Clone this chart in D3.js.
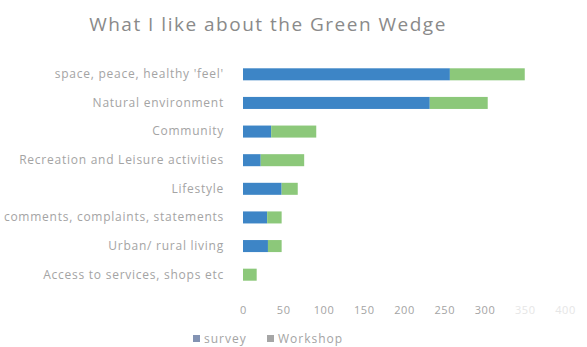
<!DOCTYPE html>
<html>
<head>
<meta charset="utf-8">
<script src="https://cdn.jsdelivr.net/npm/d3@7"></script>
<style>
  body { margin: 0; background: #fff; }
  svg { font-family: "Open Sans", sans-serif; }
</style>
</head>
<body>
<svg id="chart"></svg>
<script>
var categories = [
  "space, peace, healthy 'feel'",
  "Natural environment",
  "Community",
  "Recreation and Leisure activities",
  "Lifestyle",
  "comments, complaints, statements",
  "Urban/ rural living",
  "Access to services, shops etc"
];
var surveyValues = [257, 232, 35, 22, 48, 30, 31, 0];
var workshopValues = [93, 72, 56, 54, 20, 18, 17, 17];
var seriesNames = ["survey", "Workshop"];
var xTicks = [0, 50, 100, 150, 200, 250, 300, 350, 400];

var svgWidth = 587,
  svgHeight = 347;

var plotLeft = 243,
  plotRight = 565,
  plotTop = 60,
  plotBottom = 289;

var colors = ["#3d85c6", "#8cc87a"];

var svg = d3.select("#chart").attr("width", svgWidth).attr("height", svgHeight);

svg.append("text")
  .attr("x", 268)
  .attr("y", 31)
  .attr("text-anchor", "middle")
  .attr("font-size", "19px")
  .attr("letter-spacing", "1.5px")
  .attr("fill", "#8a8a8a")
  .text("What I like about the Green Wedge");

var xScale = d3.scaleLinear().domain([0, 400]).range([plotLeft, plotRight]);
var yScale = d3.scaleBand().domain(categories).range([plotTop, plotBottom]).paddingInner(0.58).paddingOuter(0.29);

var rows = categories.map(function (c, i) {
  return { cat: c, survey: surveyValues[i], workshop: workshopValues[i] };
});

// survey bars
svg.selectAll(".bar-survey")
  .data(rows)
  .enter()
  .append("rect")
  .attr("class", "bar-survey")
  .attr("x", xScale(0))
  .attr("y", function (d) { return yScale(d.cat); })
  .attr("width", function (d) { return xScale(d.survey) - xScale(0); })
  .attr("height", yScale.bandwidth())
  .attr("fill", colors[0]);

// workshop bars stacked after survey
svg.selectAll(".bar-workshop")
  .data(rows)
  .enter()
  .append("rect")
  .attr("class", "bar-workshop")
  .attr("x", function (d) { return xScale(d.survey); })
  .attr("y", function (d) { return yScale(d.cat); })
  .attr("width", function (d) { return xScale(d.survey + d.workshop) - xScale(d.survey); })
  .attr("height", yScale.bandwidth())
  .attr("fill", colors[1]);

var yAxis = svg.append("g")
  .attr("transform", "translate(" + (plotLeft - 16) + ",0)")
  .call(d3.axisLeft(yScale).tickSize(0).tickPadding(3));
yAxis.select(".domain").remove();
yAxis.selectAll(".tick text")
  .attr("font-size", "12px")
  .attr("letter-spacing", "0.75px")
  .attr("font-family", "Open Sans, sans-serif")
  .attr("fill", "#a4a4a4");

var xAxis = svg.append("g")
  .attr("transform", "translate(0," + (plotBottom + 12) + ")")
  .call(d3.axisBottom(xScale).tickValues(xTicks).tickSize(0).tickPadding(5));
xAxis.select(".domain").remove();
xAxis.selectAll(".tick text")
  .attr("font-size", "11px")
  .attr("letter-spacing", "0.6px")
  .attr("font-family", "Open Sans, sans-serif")
  .attr("fill", function (d) { return d > 300 ? "#e6e6e6" : "#a4a4a4"; });

// legend
var legendColors = ["#8393b3", "#a6a6a6"];
var legend = svg.append("g").attr("transform", "translate(193,335)");
var legendX = [0, 74];
seriesNames.forEach(function (name, i) {
  var item = legend.append("g").attr("transform", "translate(" + legendX[i] + ",0)");
  item.append("rect")
    .attr("x", 0)
    .attr("y", 0)
    .attr("width", 7)
    .attr("height", 7)
    .attr("fill", legendColors[i]);
  item.append("text")
    .attr("x", 11)
    .attr("y", 8)
    .attr("font-size", "12px")
    .attr("letter-spacing", "1px")
    .attr("fill", "#a4a4a4")
    .text(name);
});
</script>
</body>
</html>
